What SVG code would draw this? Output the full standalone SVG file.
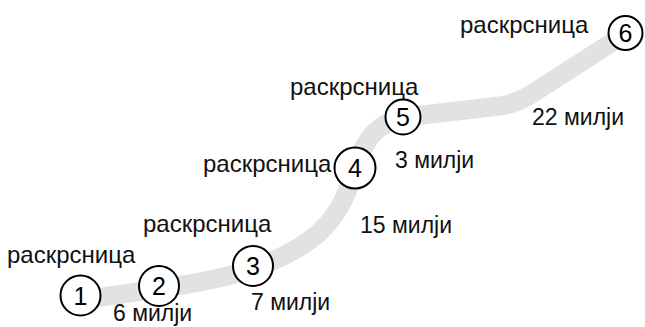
<svg xmlns="http://www.w3.org/2000/svg" width="645" height="327" viewBox="0 0 645 327">
<style>
.band{fill:none;stroke:#e2e2e2;stroke-width:19;stroke-linecap:butt;stroke-linejoin:round}
.node circle{fill:#fff;stroke:#000;stroke-width:2}
.num{font-family:"Liberation Sans",Arial,sans-serif;font-size:25px;fill:#000;text-anchor:middle}
.lbl{font-family:"Liberation Sans",Arial,sans-serif;font-size:24px;fill:#111}
.dist{font-family:"Liberation Sans",Arial,sans-serif;font-size:23px;fill:#111}
</style>
<rect width="645" height="327" fill="#fff"/>
<g id="connectors">
<path class="band" d="M 80 300 C 150 290, 230 281, 270 262 C 310 245, 335 225, 349 187 C 360 152, 368 124, 405 117 L 500 106 Q 515 104, 530 95 L 622 36"/>
</g>
<g id="labels">
<text class="lbl" x="7" y="263">раскрсница</text>
<text class="lbl" x="143" y="232">раскрсница</text>
<text class="lbl" x="203" y="172">раскрсница</text>
<text class="lbl" x="290" y="95">раскрсница</text>
<text class="lbl" x="460" y="33">раскрсница</text>
<text class="dist" x="113" y="321">6 милји</text>
<text class="dist" x="251" y="310">7 милји</text>
<text class="dist" x="360" y="233">15 милји</text>
<text class="dist" x="395" y="168">3 милји</text>
<text class="dist" x="532" y="125">22 милји</text>
</g>
<g id="node1" class="node"><circle cx="80.5" cy="295.5" r="20"/><text class="num" x="80.5" y="304.5">1</text></g>
<g id="node2" class="node"><circle cx="159" cy="286" r="20"/><text class="num" x="159" y="295">2</text></g>
<g id="node3" class="node"><circle cx="253" cy="266" r="20"/><text class="num" x="253" y="275">3</text></g>
<g id="node4" class="node"><circle cx="355" cy="168" r="20.5"/><text class="num" x="355" y="177">4</text></g>
<g id="node5" class="node"><circle cx="403" cy="117" r="17.5"/><text class="num" x="403" y="126">5</text></g>
<g id="node6" class="node"><circle cx="625.5" cy="33" r="17"/><text class="num" x="625.5" y="42">6</text></g>
</svg>
